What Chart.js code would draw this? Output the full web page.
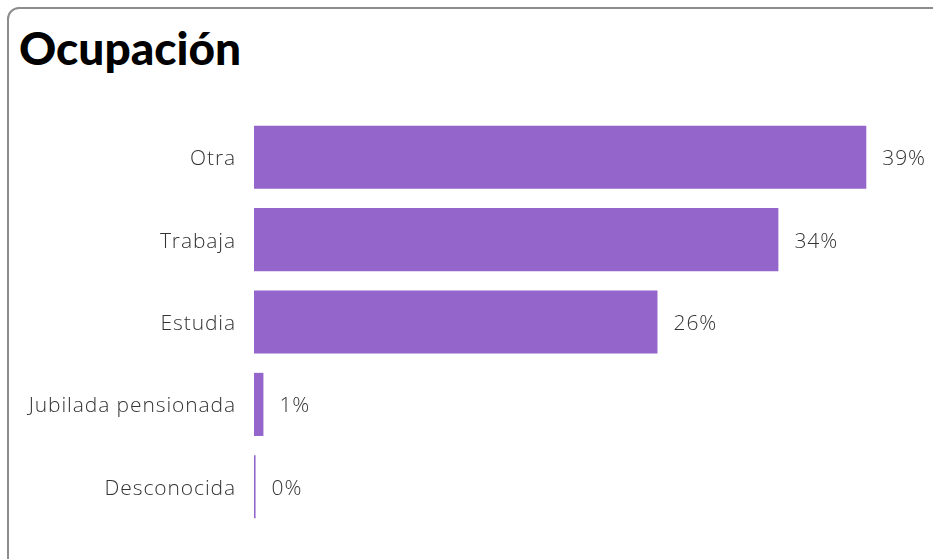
<!DOCTYPE html>
<html>
<head>
<meta charset="utf-8">
<script src="https://cdn.jsdelivr.net/npm/chart.js@4/dist/chart.umd.min.js"></script>
<style>
  html, body { margin: 0; padding: 0; background: #fff; width: 933px; height: 559px; overflow: hidden; }
  .card {
    position: absolute; left: 7px; top: 7px; width: 960px; height: 580px;
    border: 2px solid #8c8c8c; border-radius: 12px; box-sizing: border-box;
  }
  h1 {
    position: absolute; left: 19px; top: 25px; margin: 0;
    font-family: Lato, sans-serif; font-weight: 900; font-size: 46px; color: #000;
    line-height: 1;
  }
  #wrap { position: absolute; left: 0; top: 0; width: 933px; height: 559px; }
</style>
</head>
<body>
<div class="card"></div>
<h1>Ocupación</h1>
<div id="wrap"><canvas id="grafico"></canvas></div>
<script>
const categorias = ['Otra', 'Trabaja', 'Estudia', 'Jubilada pensionada', 'Desconocida'];
const porcentajes = [39.0, 33.4, 25.7, 0.6, 0.1];
const etiquetas = ['39%', '34%', '26%', '1%', '0%'];

// espaciado de letras para parecerse a la fuente original
const espaciado = {
  id: 'espaciado',
  beforeDraw(chart) { chart.ctx.letterSpacing = '0.9px'; }
};

const valorLabels = {
  id: 'valorLabels',
  afterDatasetsDraw(chart) {
    const ctx = chart.ctx;
    const meta = chart.getDatasetMeta(0);
    ctx.save();
    ctx.letterSpacing = '0.9px';
    ctx.font = '300 21px "Open Sans", sans-serif';
    ctx.fillStyle = '#333';
    ctx.textBaseline = 'middle';
    ctx.textAlign = 'left';
    meta.data.forEach((bar, i) => {
      ctx.fillText(etiquetas[i], bar.x + 16, bar.y + 2);
    });
    ctx.restore();
  }
};

const ctx = document.getElementById('grafico').getContext('2d');
new Chart(ctx, {
  type: 'bar',
  data: {
    labels: categorias,
    datasets: [{
      data: porcentajes,
      backgroundColor: '#9465cb',
      barPercentage: 0.766,
      categoryPercentage: 1
    }]
  },
  options: {
    indexAxis: 'y',
    responsive: true,
    maintainAspectRatio: false,
    animation: false,
    layout: { padding: { top: 116, bottom: 31, right: 51, left: 0 } },
    plugins: { legend: { display: false }, tooltip: { enabled: false } },
    scales: {
      x: { display: false, min: 0, max: 40 },
      y: {
        grid: { display: false, drawTicks: false },
        border: { display: false },
        ticks: { color: '#333', padding: 18, labelOffset: 2, font: { family: '"Open Sans"', size: 21, weight: 300 } },
        afterFit(scale) { scale.width = 254; }
      }
    }
  },
  plugins: [espaciado, valorLabels]
});
</script>
</body>
</html>
